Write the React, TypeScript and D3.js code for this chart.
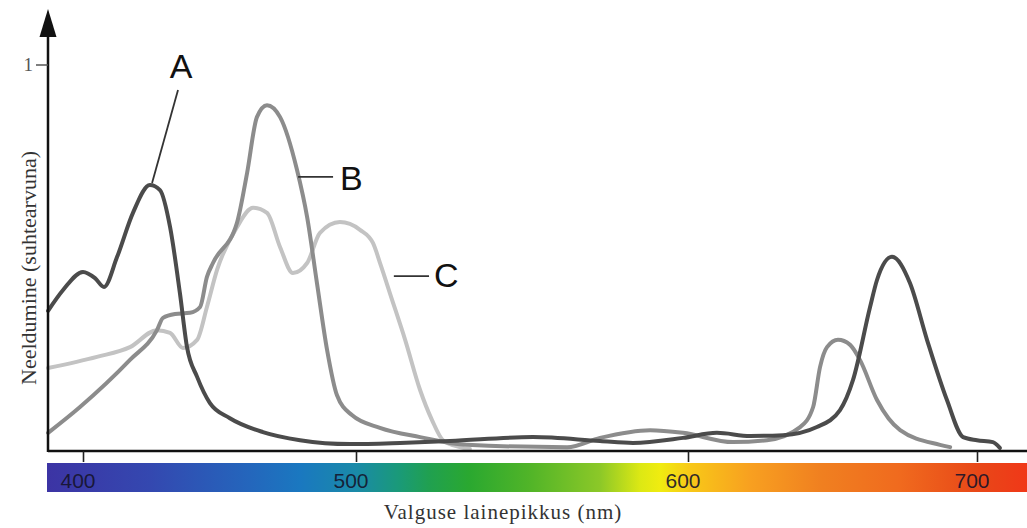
import { useEffect, useRef } from "react";
import * as d3 from "d3";

// wavelength (nm) vs relative absorbance
const pigmentA: [number, number][] = [
  [387.2, 0.363], [392.7, 0.417], [400, 0.464], [404.4, 0.448], [407.7, 0.425],
  [412.5, 0.503], [418.3, 0.617], [424.5, 0.689], [428.2, 0.676], [431.9, 0.58],
  [435.5, 0.409], [438.1, 0.269], [441.8, 0.192], [446.5, 0.124], [453.8, 0.085],
  [465.9, 0.049], [479.5, 0.028], [497.8, 0.018], [513.3, 0.021], [528.3, 0.026],
  [553.3, 0.036], [573.5, 0.026], [583.4, 0.021], [598.5, 0.034], [610, 0.047],
  [621.5, 0.039], [632.9, 0.041], [644.6, 0.062], [652.6, 0.106], [657.1, 0.184],
  [663, 0.373], [665.4, 0.443], [670.6, 0.503], [676.8, 0.435], [682.7, 0.288],
  [689.6, 0.132], [695.2, 0.036], [700, 0.028], [705.5, 0.023], [707.9, 0.008],
];

const pigmentB: [number, number][] = [
  [387.2, 0.047], [398.9, 0.114], [417.2, 0.236], [427.1, 0.313], [429.3, 0.345],
  [433.7, 0.355], [439.2, 0.358], [442.9, 0.373], [445.4, 0.451], [447.6, 0.487],
  [456.4, 0.591], [460.1, 0.72], [463.7, 0.865], [467.4, 0.896], [472.2, 0.865],
  [478.4, 0.728], [482.1, 0.606], [485.7, 0.435], [489.4, 0.262], [493, 0.145],
  [498.5, 0.093], [507.2, 0.06], [519.3, 0.036], [533.4, 0.016], [563.6, 0.01],
  [573.5, 0.034], [588.6, 0.054], [598.5, 0.047], [615.6, 0.023], [627.3, 0.028],
  [638.8, 0.062], [643.3, 0.114], [645.7, 0.218], [648.1, 0.269], [651.9, 0.288],
  [656.1, 0.275], [659.5, 0.236], [665.4, 0.132], [673.4, 0.054], [687.2, 0.016],
  [690.7, 0.01],
];

const pigmentC: [number, number][] = [
  [387.2, 0.215], [405.1, 0.244], [417.2, 0.269], [427.1, 0.313], [431.9, 0.306],
  [436.6, 0.267], [441.8, 0.288], [445.4, 0.373], [449.1, 0.469], [456.4, 0.58],
  [462.3, 0.63], [467.4, 0.617], [472.2, 0.528], [476.9, 0.461], [482.1, 0.487],
  [486.8, 0.565], [494.1, 0.593], [501.2, 0.573], [505.1, 0.539], [507.5, 0.48],
  [510.2, 0.409], [514.8, 0.288], [519.3, 0.158], [522.9, 0.08], [526.2, 0.028],
  [531.3, 0.01], [534.3, 0.005],
];

// callouts: label, pointer start, pointer end, text anchor point
const callouts = [
  { label: "A", from: [425.3, 0.694], to: [434.8, 0.935], text: [435.9, 0.966], anchor: "middle" },
  { label: "B", from: [478.8, 0.71], to: [491.6, 0.71], text: [494.1, 0.676], anchor: "start" },
  { label: "C", from: [511.4, 0.453], to: [522.0, 0.453], text: [523.5, 0.425], anchor: "start" },
];

const wavelengthTicks = [400, 500, 600, 700];

const spectrum = [
  [387, "#3c34a4"], [424.5, "#3448b0"], [461, "#2466bc"], [479.5, "#1a78c0"],
  [500, "#1a8aa8"], [513, "#1a9a78"], [522, "#20a050"], [534, "#2aa830"],
  [552, "#50b428"], [573.5, "#8cc828"], [585.5, "#dce814"], [591.6, "#f0ec10"],
  [600.7, "#f8c818"], [621.5, "#f8a020"], [645.7, "#f08020"], [673.4, "#f06a1e"],
  [700, "#e84818"], [717, "#f03818"],
];

export default function App() {
  const ref = useRef<SVGSVGElement>(null);
  const width = 1027;
  const height = 528;
  const left = 48;
  const bottom = 451;

  useEffect(() => {
    const svg = d3.select(ref.current);
    svg.selectAll("*").remove();

    // the wavelength axis is not linear in the figure
    const x = d3.scaleLinear().domain(wavelengthTicks).range([83, 356, 688, 977]);
    const y = d3.scaleLinear().domain([0, 1]).range([bottom, 65]);

    // spectrum bar
    const defs = svg.append("defs");
    const grad = defs.append("linearGradient")
      .attr("id", "spec")
      .attr("x1", "0").attr("x2", "1").attr("y1", "0").attr("y2", "0");
    const barX0 = 47, barX1 = width;
    grad.selectAll("stop").data(spectrum).enter().append("stop")
      .attr("offset", d => (x(d[0] as number) - barX0) / (barX1 - barX0))
      .attr("stop-color", d => d[1] as string);

    svg.append("rect")
      .attr("x", barX0).attr("y", 463)
      .attr("width", barX1 - barX0).attr("height", 29)
      .attr("fill", "url(#spec)");

    // curves
    const line = d3.line<[number, number]>()
      .x(d => x(d[0]))
      .y(d => y(d[1]))
      .curve(d3.curveMonotoneX);

    const series: [[number, number][], string][] = [
      [pigmentC, "#c3c3c3"],
      [pigmentB, "#8c8c8c"],
      [pigmentA, "#4b4b4b"],
    ];
    series.forEach(([data, color]) => {
      svg.append("path")
        .attr("d", line(data))
        .attr("fill", "none")
        .attr("stroke", color)
        .attr("stroke-width", 4)
        .attr("stroke-linecap", "round")
        .attr("stroke-linejoin", "round");
    });

    // axes
    svg.append("line")
      .attr("x1", left).attr("x2", width)
      .attr("y1", bottom).attr("y2", bottom)
      .attr("stroke", "#111").attr("stroke-width", 2.5);
    svg.append("line")
      .attr("x1", left).attr("x2", left)
      .attr("y1", bottom + 1).attr("y2", 36)
      .attr("stroke", "#111").attr("stroke-width", 2.5);
    svg.append("path")
      .attr("d", `M${left - 8.5},37 L${left + 8.5},37 L${left},9 Z`)
      .attr("fill", "#111");

    const xAxis = d3.axisBottom(x).tickValues(wavelengthTicks).tickSize(11).tickFormat(() => "");
    const gx = svg.append("g").attr("transform", `translate(0,${bottom})`).call(xAxis);
    gx.select(".domain").remove();
    gx.selectAll(".tick line").attr("stroke", "#222").attr("stroke-width", 1.6);

    svg.append("g").selectAll("text").data(wavelengthTicks).enter().append("text")
      .attr("x", d => x(d) - 5)
      .attr("y", 488)
      .attr("text-anchor", "middle")
      .attr("font-family", "Liberation Sans, Arial, sans-serif")
      .attr("font-size", 21)
      .attr("fill", "#15132a")
      .attr("fill-opacity", 0.9)
      .text(d => d);

    // y tick at 1
    svg.append("line")
      .attr("x1", 36).attr("x2", left)
      .attr("y1", y(1)).attr("y2", y(1))
      .attr("stroke", "#555").attr("stroke-width", 1.5);
    svg.append("text")
      .attr("x", 33).attr("y", y(1) + 6)
      .attr("text-anchor", "end")
      .attr("font-family", "Liberation Serif, Times New Roman, serif")
      .attr("font-size", 19)
      .attr("fill", "#555")
      .text("1");

    // callouts
    callouts.forEach(c => {
      svg.append("line")
        .attr("x1", x(c.from[0])).attr("y1", y(c.from[1]))
        .attr("x2", x(c.to[0])).attr("y2", y(c.to[1]))
        .attr("stroke", "#333").attr("stroke-width", 1.8);
      svg.append("text")
        .attr("x", x(c.text[0])).attr("y", y(c.text[1]))
        .attr("text-anchor", c.anchor)
        .attr("font-family", "Liberation Sans, Arial, sans-serif")
        .attr("font-size", 34)
        .attr("fill", "#111")
        .text(c.label);
    });

    // axis titles
    svg.append("text")
      .attr("x", 503).attr("y", 519)
      .attr("text-anchor", "middle")
      .attr("font-family", "Liberation Serif, Times New Roman, serif")
      .attr("font-size", 21)
      .attr("letter-spacing", 1)
      .attr("fill", "#333")
      .text("Valguse lainepikkus (nm)");

    svg.append("text")
      .attr("transform", "translate(36,268) rotate(-90)")
      .attr("text-anchor", "middle")
      .attr("font-family", "Liberation Serif, Times New Roman, serif")
      .attr("font-size", 22)
      .attr("fill", "#333")
      .text("Neeldumine (suhtearvuna)");
  }, []);

  return (
    <div style={{ position: "absolute", top: 0, left: 0 }}>
      <svg ref={ref} width={width} height={height} style={{ display: "block", background: "#fff" }} />
    </div>
  );
}
